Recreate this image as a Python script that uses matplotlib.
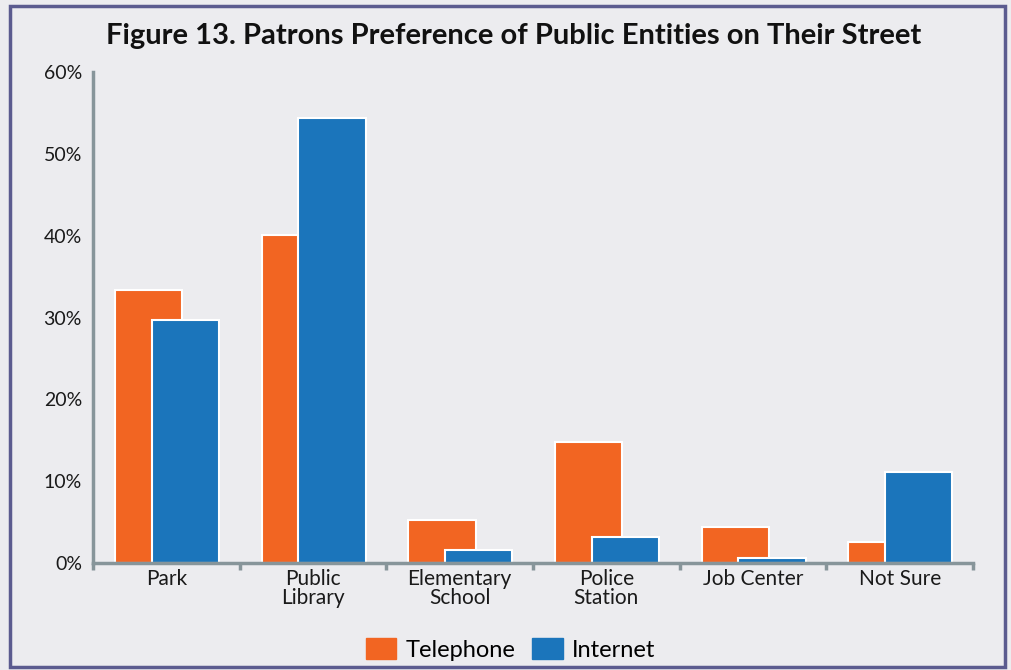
import matplotlib
matplotlib.use('Agg')
import numpy as np
import matplotlib.pyplot as plt
from matplotlib.patches import Rectangle, Patch
from matplotlib.ticker import PercentFormatter

# data
categories = ['Park', 'Public\nLibrary', 'Elementary\nSchool', 'Police\nStation', 'Job Center', 'Not Sure']
telephone = [33.4, 40.1, 5.3, 14.8, 4.4, 2.6]
internet = [29.7, 54.4, 1.6, 3.2, 0.6, 11.1]

orange = '#f26522'
blue = '#1b75bb'
bg = '#ececef'
axis_col = '#87959a'

plt.rcParams['font.family'] = ['Lato', 'DejaVu Sans']

fig = plt.figure(figsize=(10.11, 6.70), dpi=100, facecolor=bg)
ax = fig.add_axes([0.092, 0.1597, 0.8704, 0.7328])
ax.set_facecolor(bg)

x = np.arange(len(categories))
width = 0.46

ax.bar(x - 0.12, telephone, width, color=orange, edgecolor='white', linewidth=1.5,
       label='Telephone', zorder=2)
ax.bar(x + 0.13, internet, width, color=blue, edgecolor='white', linewidth=1.5,
       label='Internet', zorder=3)

ax.set_xlim(-0.5, 5.5)
ax.set_ylim(0, 60)
ax.set_yticks(range(0, 61, 10))
ax.yaxis.set_major_formatter(PercentFormatter(decimals=0))
ax.set_xticks(x)
ax.set_xticklabels(categories, linespacing=0.95)
ax.set_xticks(np.arange(-0.5, 5.6, 1), minor=True)

ax.tick_params(axis='x', which='major', length=0, pad=4, labelsize=15, colors='#1a1a1a')
ax.tick_params(axis='x', which='minor', length=5, width=2.5, color=axis_col, direction='out')
ax.tick_params(axis='y', length=0, pad=8, labelsize=14, colors='#1a1a1a')

for s in ['top', 'right']:
    ax.spines[s].set_visible(False)
for s in ['left', 'bottom']:
    ax.spines[s].set_color(axis_col)
    ax.spines[s].set_linewidth(2.5)
    ax.spines[s].set_zorder(4)

fig.text(0.5085, 0.947, 'Figure 13. Patrons Preference of Public Entities on Their Street',
         ha='center', va='center', fontsize=21, fontweight='bold', color='#111111')

handles = [Patch(facecolor=orange, edgecolor=orange), Patch(facecolor=blue, edgecolor=blue)]
fig.legend(handles, ['Telephone', 'Internet'], loc='center', bbox_to_anchor=(0.505, 0.031),
           ncol=2, frameon=False, fontsize=17, handlelength=1.3, handleheight=1.0,
           handletextpad=0.4, columnspacing=0.7)

fig.patches.append(Rectangle((0.0099, 0.004), 0.9843, 0.987, transform=fig.transFigure,
                             fill=False, edgecolor='#5b5b8f', linewidth=2.5, zorder=10))

fig.savefig('out.png', dpi=100, facecolor=bg)
